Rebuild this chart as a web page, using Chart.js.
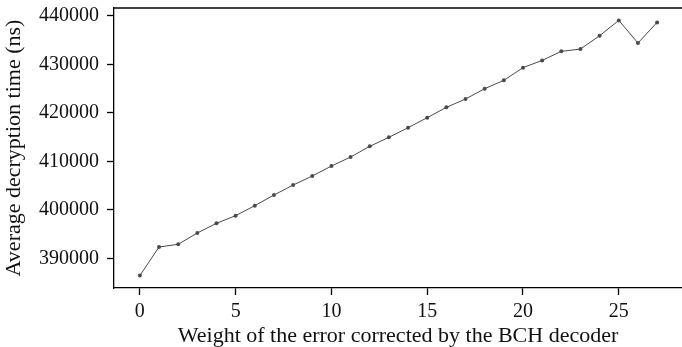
<!DOCTYPE html>
<html>
<head>
<meta charset="utf-8">
<script src="https://cdn.jsdelivr.net/npm/chart.js@4.4.1/dist/chart.umd.min.js"></script>
<style>
  html, body { margin: 0; padding: 0; background: #fff; }
  #wrap { width: 682px; height: 347px; }
</style>
</head>
<body>
<div id="wrap"><canvas id="myChart" width="682" height="347"></canvas></div>
<script>
// error weight corrected by the decoder
const weights = [0, 1, 2, 3, 4, 5, 6, 7, 8, 9, 10, 11, 12, 13, 14, 15, 16, 17, 18, 19, 20, 21, 22, 23, 24, 25, 26, 27];
// average decryption time in ns
const times = [386430, 392330, 392890, 395220, 397220, 398800, 400860, 403050, 405110, 406970,
               409030, 410890, 413090, 414950, 416940, 419000, 421130, 422850, 424980, 426700,
               429320, 430820, 432680, 433160, 435910, 439070, 434400, 438660];
const xTicks = [0, 5, 10, 15, 20, 25];
const yTicks = [390000, 400000, 410000, 420000, 430000, 440000];

const FONT = 'Liberation Serif';
const LINE_COLOR = '#4a4a4a';

// matplotlib style full frame: left/bottom come from the axes, top is drawn here
const topBorder = {
    id: 'topBorder',
    afterDraw(chart) {
        const a = chart.chartArea;
        const c = chart.ctx;
        c.save();
        c.strokeStyle = '#000';
        c.lineWidth = 1.3;
        c.beginPath();
        c.moveTo(a.left, a.top);
        c.lineTo(a.right, a.top);
        c.stroke();
        c.restore();
    }
};

function InitializeChart() {
    const ctx = document.getElementById('myChart').getContext('2d');
    return new Chart(ctx, {
        type: 'line',
        data: {
            datasets: [{
                data: times.map((t, i) => ({ x: weights[i], y: t })),
                borderColor: LINE_COLOR,
                backgroundColor: LINE_COLOR,
                borderWidth: 1,
                pointRadius: 2,
                pointBorderWidth: 0,
                pointBackgroundColor: LINE_COLOR,
                tension: 0,
                clip: false
            }]
        },
        options: {
            responsive: false,
            animation: false,
            // no extra room for the point markers, the figure is cut at the frame
            layout: { autoPadding: false, padding: { top: 8, right: 0, left: 0, bottom: 0 } },
            plugins: {
                legend: { display: false },
                tooltip: { enabled: false }
            },
            scales: {
                x: {
                    type: 'linear',
                    min: -1.35,
                    max: 28.3,
                    afterBuildTicks: axis => { axis.ticks = xTicks.map(v => ({ value: v })); },
                    afterFit: axis => {
                        axis.height = 59;
                        axis.paddingLeft = 0;
                        axis.paddingRight = 0;
                    },
                    grid: { display: true, drawOnChartArea: false, drawTicks: true, tickLength: 7, color: '#000', tickWidth: 1.3 },
                    border: { display: true, color: '#000', width: 1.3 },
                    ticks: {
                        color: '#111',
                        padding: 5,
                        maxRotation: 0,
                        font: { family: FONT, size: 20 },
                        callback: v => String(v)
                    },
                    title: {
                        display: true,
                        text: 'Weight of the error corrected by the BCH decoder',
                        color: '#111',
                        padding: 0,
                        font: { family: FONT, size: 22, lineHeight: 1 }
                    }
                },
                y: {
                    type: 'linear',
                    min: 383875,
                    max: 441625,
                    afterBuildTicks: axis => { axis.ticks = yTicks.map(v => ({ value: v })); },
                    afterFit: axis => {
                        axis.width = 114;
                        axis.paddingTop = 0;
                        axis.paddingBottom = 0;
                    },
                    grid: { display: true, drawOnChartArea: false, drawTicks: true, tickLength: 7, color: '#000', tickWidth: 1.3 },
                    border: { display: true, color: '#000', width: 1.3 },
                    ticks: {
                        color: '#111',
                        padding: 8,
                        font: { family: FONT, size: 20 },
                        callback: v => String(v)
                    },
                    title: {
                        display: true,
                        text: 'Average decryption time (ns)',
                        color: '#111',
                        padding: { top: 1, bottom: 0 },
                        font: { family: FONT, size: 22, lineHeight: 1.2 }
                    }
                }
            }
        },
        plugins: [topBorder]
    });
}

InitializeChart();
</script>
</body>
</html>
